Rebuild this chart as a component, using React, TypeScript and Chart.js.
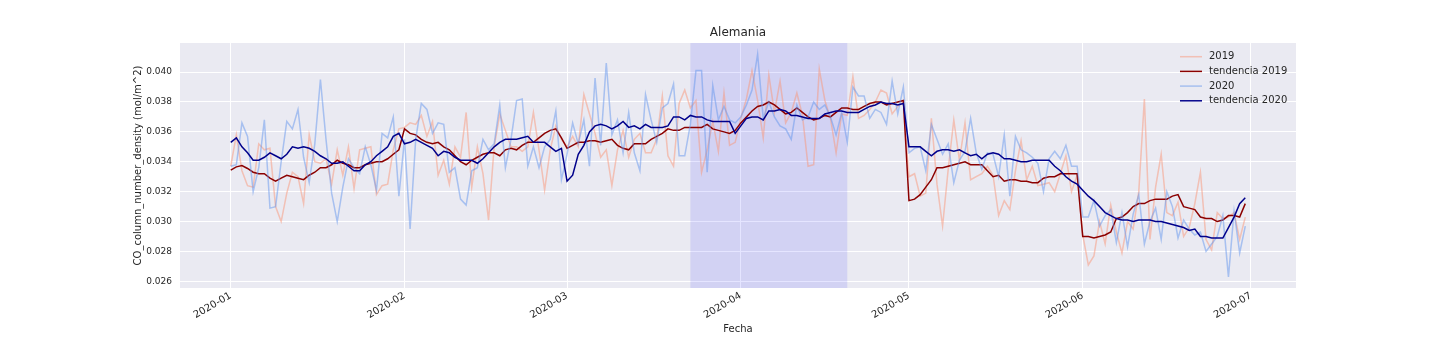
import React, { useEffect, useRef } from "react";
import { Chart, registerables } from "chart.js";

Chart.register(...registerables);

const TITLE = "Alemania";
const X_LABEL = "Fecha";
const Y_LABEL = "CO_column_number_density (mol/m^2)";
const START_DATE = "2020-01-01";
const SHADE_RANGE = ["2020-03-23", "2020-04-20"];
const MONTH_TICKS = ["2020-01-01", "2020-02-01", "2020-03-01", "2020-04-01", "2020-05-01", "2020-06-01", "2020-07-01"];
const MONTH_LABELS = ["2020-01", "2020-02", "2020-03", "2020-04", "2020-05", "2020-06", "2020-07"];
const Y_TICKS = [0.026, 0.028, 0.03, 0.032, 0.034, 0.036, 0.038, 0.04];
const SERIES_LABELS = ["2019", "tendencia 2019", "2020", "tendencia 2020"];

const RAW_2019 = [
  0.0337, 0.0358, 0.0334, 0.0324, 0.0323, 0.0352, 0.0348, 0.0349, 0.0310, 0.0300,
  0.0319, 0.0333, 0.0330, 0.0312, 0.0358, 0.0340, 0.0339, 0.0342, 0.0325, 0.0348,
  0.0331, 0.0350, 0.0322, 0.0348, 0.0349, 0.0350, 0.0318, 0.0324, 0.0325, 0.0348,
  0.0362, 0.0363, 0.0366, 0.0365, 0.0371, 0.0357, 0.0367, 0.0331, 0.0341, 0.0325,
  0.0350, 0.0343, 0.0373, 0.0323, 0.0350, 0.0332, 0.0301, 0.0350, 0.0372, 0.0361,
  0.0350, 0.0350, 0.0347, 0.0350, 0.0373, 0.0348, 0.0321, 0.0348, 0.0364, 0.0355,
  0.0350, 0.0357, 0.0350, 0.0385, 0.0372, 0.0359, 0.0343, 0.0348, 0.0324, 0.0348,
  0.0361, 0.0343, 0.0355, 0.0359, 0.0346, 0.0346, 0.0355, 0.0384, 0.0344, 0.0337,
  0.0379, 0.0388, 0.0376, 0.0381, 0.0333, 0.0348, 0.0367, 0.0347, 0.0386, 0.0351,
  0.0353, 0.0369, 0.0382, 0.0401, 0.0381, 0.0356, 0.0398, 0.0373, 0.0394, 0.0366,
  0.0373, 0.0386, 0.0371, 0.0337, 0.0338, 0.0402, 0.0381, 0.0369, 0.0346, 0.0372,
  0.0371, 0.0397, 0.0369, 0.0371, 0.0375, 0.0380, 0.0388, 0.0386, 0.0372, 0.0377,
  0.0380, 0.0330, 0.0332, 0.0317, 0.0319, 0.0369, 0.0325, 0.0297, 0.0335, 0.0368,
  0.0341, 0.0366, 0.0328, 0.0330, 0.0332, 0.0337, 0.0331, 0.0304, 0.0314, 0.0308,
  0.0334, 0.0354, 0.0328, 0.0337, 0.0324, 0.0325, 0.0326, 0.0320, 0.0332, 0.0344,
  0.0320, 0.0331, 0.0291, 0.0271, 0.0277, 0.0300, 0.0285, 0.0311, 0.0293, 0.0279,
  0.0300, 0.0295, 0.0320, 0.0382, 0.0288, 0.0323, 0.0345, 0.0306, 0.0304, 0.0313,
  0.0290, 0.0296, 0.0312, 0.0333, 0.0288, 0.0281, 0.0306, 0.0302, 0.0303, 0.0306,
  0.0288, 0.0303,
];

const TREND_2019 = [
  0.03344, 0.03366, 0.03375, 0.03355, 0.0333, 0.0332, 0.0332, 0.0329, 0.0327, 0.0329,
  0.0331, 0.0330, 0.0329, 0.0328, 0.0331, 0.0333, 0.0336, 0.0336, 0.0338, 0.0341,
  0.0339, 0.0338, 0.0336, 0.0336, 0.0338, 0.0339, 0.0340, 0.0340, 0.0342, 0.0345,
  0.0348, 0.0362, 0.0359, 0.0358, 0.0355, 0.0353, 0.0352, 0.0353, 0.0350, 0.0348,
  0.0344, 0.0340, 0.0338, 0.0341, 0.0343, 0.0345, 0.0346, 0.0346, 0.0344, 0.0348,
  0.0349, 0.0348, 0.0351, 0.0353, 0.0353, 0.0356, 0.0359, 0.0361, 0.0362, 0.0356,
  0.0349, 0.0351, 0.0353, 0.0353, 0.0354, 0.0354, 0.0353, 0.0354, 0.0355, 0.0351,
  0.0349, 0.0348, 0.0352, 0.0352, 0.0352, 0.0355, 0.0357, 0.0359, 0.0362, 0.0361,
  0.0361, 0.0363, 0.0363, 0.0363, 0.0363, 0.0365, 0.0362, 0.0361, 0.0360, 0.0359,
  0.0361, 0.0366, 0.0370, 0.0374, 0.0377, 0.0378, 0.0380, 0.0378, 0.0375, 0.0372,
  0.0373, 0.0376, 0.0373, 0.0370, 0.0368, 0.0369, 0.0371, 0.0370, 0.0373, 0.0376,
  0.0376, 0.0375, 0.0375, 0.0377, 0.0379, 0.0380, 0.0380, 0.0378, 0.0379, 0.0380,
  0.0381, 0.0314, 0.0315, 0.0318, 0.0323, 0.0328, 0.0336, 0.0336, 0.0337, 0.0338,
  0.0339, 0.0340, 0.0338, 0.0338, 0.0338, 0.0334, 0.0330, 0.0331, 0.0327, 0.0328,
  0.0328, 0.0327, 0.0327, 0.0326, 0.0326, 0.0329, 0.0330, 0.0330, 0.0332, 0.0332,
  0.0332, 0.0332, 0.0290, 0.0290, 0.0289, 0.0290, 0.0291, 0.0293, 0.0302, 0.0303,
  0.0306, 0.0310, 0.0312, 0.0312, 0.0314, 0.0315, 0.0315, 0.0315, 0.0317, 0.0318,
  0.0310, 0.0309, 0.0308, 0.0303, 0.0302, 0.0302, 0.0300, 0.0301, 0.0304, 0.0304,
  0.0303, 0.0312,
];

const RAW_2020 = [
  0.0337, 0.0338, 0.0366, 0.0357, 0.0320, 0.0336, 0.0368, 0.0309, 0.0310, 0.0340,
  0.0367, 0.0362, 0.0375, 0.0343, 0.0326, 0.0352, 0.0395, 0.0355, 0.0319, 0.0300,
  0.0323, 0.0342, 0.0336, 0.0332, 0.0350, 0.0338, 0.0321, 0.0359, 0.0356, 0.0370,
  0.0317, 0.0355, 0.0295, 0.0355, 0.0379, 0.0375, 0.0359, 0.0366, 0.0365, 0.0333,
  0.0336, 0.0315, 0.0311, 0.0334, 0.0336, 0.0355, 0.0348, 0.0352, 0.0378, 0.0336,
  0.0355, 0.0381, 0.0382, 0.0337, 0.0350, 0.0336, 0.0350, 0.0355, 0.0374, 0.0328,
  0.0345, 0.0366, 0.0352, 0.0368, 0.0337, 0.0396, 0.0351, 0.0406, 0.0358, 0.0368,
  0.0346, 0.0373, 0.0346, 0.0334, 0.0385, 0.0368, 0.0353, 0.0376, 0.0379, 0.0392,
  0.0344, 0.0344, 0.0365, 0.0401, 0.0401, 0.0333, 0.0391, 0.0368, 0.0377, 0.0368,
  0.0366, 0.0370, 0.0378, 0.0388, 0.0412, 0.0369, 0.0380, 0.0370, 0.0364, 0.0362,
  0.0355, 0.0378, 0.0368, 0.0370, 0.0380, 0.0375, 0.0378, 0.0370, 0.0358, 0.0373,
  0.0353, 0.0390, 0.0384, 0.0384, 0.0369, 0.0375, 0.0373, 0.0365, 0.0394, 0.0372,
  0.0390, 0.0346, 0.0349, 0.0350, 0.0334, 0.0365, 0.0355, 0.0345, 0.0352, 0.0326,
  0.0341, 0.0347, 0.0369, 0.0346, 0.0335, 0.0346, 0.0345, 0.0330, 0.0358, 0.0317,
  0.0357, 0.0348, 0.0346, 0.0343, 0.0339, 0.0320, 0.0342, 0.0347, 0.0342, 0.0351,
  0.0337, 0.0337, 0.0303, 0.0303, 0.0314, 0.0297, 0.0304, 0.0308, 0.0286, 0.0306,
  0.0283, 0.0305, 0.0318, 0.0285, 0.0300, 0.0309, 0.0288, 0.0320, 0.0310, 0.0289,
  0.0301, 0.0295, 0.0291, 0.0293, 0.0280, 0.0285, 0.0290, 0.0304, 0.0263, 0.0307,
  0.0279, 0.0297,
];

const TREND_2020 = [
  0.0353, 0.0356, 0.0350, 0.0346, 0.0341, 0.0341, 0.0343, 0.0346, 0.0344, 0.0342,
  0.0345, 0.0350, 0.0349, 0.0350, 0.0349, 0.0347, 0.0344, 0.0342, 0.0339, 0.0339,
  0.0340, 0.0337, 0.0334, 0.0334, 0.0338, 0.0340, 0.0344, 0.0347, 0.0350, 0.0357,
  0.0359, 0.0352, 0.0353, 0.0355, 0.0353, 0.0351, 0.0349, 0.0344, 0.0347, 0.0346,
  0.0343, 0.0341, 0.0341, 0.0341, 0.0339, 0.0342, 0.0346, 0.0350, 0.0353, 0.0355,
  0.0355, 0.0355, 0.0356, 0.0357, 0.0353, 0.0353, 0.0353, 0.0350, 0.0347, 0.0349,
  0.0327, 0.0331, 0.0345, 0.0351, 0.0360, 0.0364, 0.0365, 0.0364, 0.0362, 0.0364,
  0.0367, 0.0363, 0.0364, 0.0362, 0.0365, 0.0363, 0.0363, 0.0363, 0.0364, 0.0370,
  0.0370, 0.0368, 0.0371, 0.0370, 0.0370, 0.0368, 0.0367, 0.0367, 0.0367, 0.0367,
  0.0359, 0.0364, 0.0369, 0.0370, 0.0370, 0.0368, 0.0374, 0.0374, 0.0375, 0.0374,
  0.0371, 0.0371, 0.0370, 0.0369, 0.0369, 0.0369, 0.0372, 0.0373, 0.0374, 0.0374,
  0.0373, 0.0373, 0.0373, 0.0375, 0.0377, 0.0378, 0.0380, 0.0379, 0.0379, 0.0378,
  0.0379, 0.0350, 0.0350, 0.0350, 0.0347, 0.0344, 0.0347, 0.0348, 0.0348, 0.0347,
  0.0348, 0.0346, 0.0344, 0.0345, 0.0342, 0.0345, 0.0346, 0.0345, 0.0342, 0.0342,
  0.0341, 0.0340, 0.0340, 0.0341, 0.0341, 0.0341, 0.0341, 0.0337, 0.0334, 0.0330,
  0.0327, 0.0325, 0.0321, 0.0317, 0.0314, 0.0310, 0.0306, 0.0304, 0.0302, 0.0301,
  0.0301, 0.0300, 0.0301, 0.0301, 0.0301, 0.0300, 0.0300, 0.0299, 0.0298, 0.0297,
  0.0296, 0.0294, 0.0295, 0.0290, 0.0290, 0.0289, 0.0289, 0.0289, 0.0296, 0.0303,
  0.0312, 0.0316,
];

const COLORS = [
  "rgba(250, 150, 120, 0.5)",
  "#8b0000",
  "rgba(100, 149, 237, 0.5)",
  "#00008b",
];

const FONT = "'DejaVu Sans', 'Liberation Sans', sans-serif";
const TEXT_COLOR = "#262626";

const dayOf = (s: string) =>
  (Date.parse(s + "T00:00:00Z") - Date.parse(START_DATE + "T00:00:00Z")) / 86400000;

const toPoints = (arr: number[]) => arr.map((v, i) => ({ x: i, y: v }));

export default function App() {
  const canvasRef = useRef<HTMLCanvasElement | null>(null);

  useEffect(() => {
    const canvas = canvasRef.current;
    if (!canvas) return;

    const all = [...RAW_2019, ...TREND_2019, ...RAW_2020, ...TREND_2020];
    const dMin = Math.min(...all);
    const dMax = Math.max(...all);
    const yPad = (dMax - dMin) * 0.05;
    const n = RAW_2019.length;
    const xPad = (n - 1) * 0.05;

    const bgPlugin = {
      id: "bgPlugin",
      beforeDraw(chart: any) {
        const { ctx, chartArea } = chart;
        ctx.save();
        ctx.fillStyle = "#ffffff";
        ctx.fillRect(0, 0, chart.width, chart.height);
        ctx.fillStyle = "#eaeaf2";
        ctx.fillRect(chartArea.left, chartArea.top, chartArea.right - chartArea.left, chartArea.bottom - chartArea.top);
        ctx.restore();
      },
      beforeDatasetsDraw(chart: any) {
        const { ctx, chartArea, scales } = chart;
        const x0 = scales.x.getPixelForValue(dayOf(SHADE_RANGE[0]));
        const x1 = scales.x.getPixelForValue(dayOf(SHADE_RANGE[1]));
        ctx.save();
        ctx.fillStyle = "rgba(0, 0, 255, 0.1)";
        ctx.fillRect(x0, chartArea.top, x1 - x0, chartArea.bottom - chartArea.top);
        ctx.restore();
      },
      afterDraw(chart: any) {
        const { ctx, chartArea } = chart;
        ctx.save();
        ctx.fillStyle = TEXT_COLOR;
        ctx.font = `12px ${FONT}`;
        ctx.textAlign = "center";
        ctx.textBaseline = "middle";
        ctx.fillText(TITLE, (chartArea.left + chartArea.right) / 2, 33);
        ctx.font = `10px ${FONT}`;
        ctx.textAlign = "left";
        const hx0 = chartArea.right - 116;
        const hx1 = chartArea.right - 94;
        const tx = chartArea.right - 87;
        SERIES_LABELS.forEach((label, i) => {
          const y = chartArea.top + 13.7 + i * 14.7;
          ctx.strokeStyle = COLORS[i];
          ctx.lineWidth = 1.5;
          ctx.beginPath();
          ctx.moveTo(hx0, y);
          ctx.lineTo(hx1, y);
          ctx.stroke();
          ctx.fillStyle = TEXT_COLOR;
          ctx.fillText(label, tx, y);
        });
        ctx.restore();
      },
    };

    const seriesData = [RAW_2019, TREND_2019, RAW_2020, TREND_2020];

    const chart = new Chart(canvas, {
      type: "line",
      data: {
        datasets: seriesData.map((arr, i) => ({
          label: SERIES_LABELS[i],
          data: toPoints(arr),
          borderColor: COLORS[i],
          backgroundColor: COLORS[i],
          borderWidth: 1.5,
          pointRadius: 0,
          pointHoverRadius: 0,
          tension: 0,
          fill: false,
          order: 3 - i,
        })),
      },
      options: {
        animation: false,
        responsive: false,
        devicePixelRatio: 1,
        events: [],
        layout: { padding: { left: 0, right: 144, top: 43, bottom: 0 } },
        plugins: {
          legend: { display: false },
          title: { display: false },
          tooltip: { enabled: false },
        },
        scales: {
          x: {
            type: "linear",
            min: -xPad,
            max: n - 1 + xPad,
            border: { display: false },
            grid: { color: "#ffffff", lineWidth: 1, drawTicks: false },
            afterBuildTicks: (scale: any) => {
              scale.ticks = MONTH_TICKS.map((d) => ({ value: dayOf(d) }));
            },
            afterFit: (scale: any) => {
              scale.height = 72;
            },
            ticks: {
              autoSkip: false,
              minRotation: 30,
              maxRotation: 30,
              padding: 2,
              color: TEXT_COLOR,
              font: { family: FONT, size: 10 },
              callback: (_v: any, idx: number) => MONTH_LABELS[idx],
            },
            title: {
              display: true,
              text: X_LABEL,
              color: TEXT_COLOR,
              font: { family: FONT, size: 10 },
              padding: { top: 0, bottom: 25 },
            },
          },
          y: {
            type: "linear",
            min: dMin - yPad,
            max: dMax + yPad,
            border: { display: false },
            grid: { color: "#ffffff", lineWidth: 1, drawTicks: false },
            afterBuildTicks: (scale: any) => {
              scale.ticks = Y_TICKS.map((v) => ({ value: v }));
            },
            afterFit: (scale: any) => {
              scale.width = 180;
            },
            ticks: {
              padding: 8,
              color: TEXT_COLOR,
              font: { family: FONT, size: 9 },
              callback: (v: any) => Number(v).toFixed(3),
            },
            title: {
              display: true,
              text: Y_LABEL,
              color: TEXT_COLOR,
              font: { family: FONT, size: 10 },
              padding: { top: 132, bottom: 0 },
            },
          },
        },
      },
      plugins: [bgPlugin],
    } as any);

    return () => chart.destroy();
  }, []);

  return (
    <div style={{ position: "fixed", left: 0, top: 0, width: 1440, height: 360, background: "#ffffff" }}>
      <canvas ref={canvasRef} width={1440} height={360} style={{ display: "block", width: 1440, height: 360 }} />
    </div>
  );
}
